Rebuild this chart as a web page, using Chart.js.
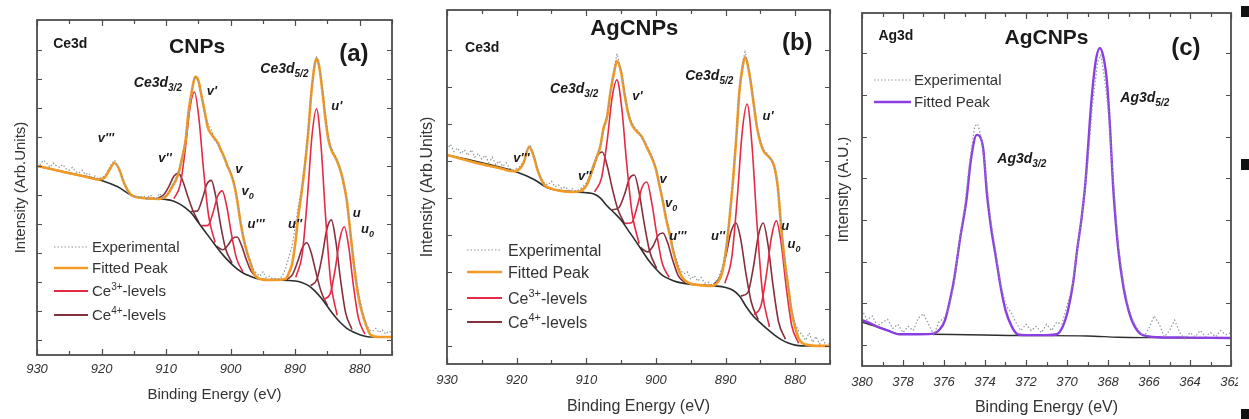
<!DOCTYPE html>
<html lang="en">
<head>
<meta charset="UTF-8">
<title>XPS Ce3d / Ag3d</title>
<script src="https://cdn.jsdelivr.net/npm/chart.js"></script>
<style>
  html, body { margin: 0; padding: 0; background: #fff; }
  #page { position: relative; width: 1249px; height: 419px; overflow: hidden; background: #fff; }
  canvas { position: absolute; top: 0; }
  .mark { position: absolute; left: 1241px; width: 8px; background: #111; }
</style>
</head>
<body>
<div id="page">
  <canvas id="chartA" width="415" height="419" style="left:0px"></canvas>
  <canvas id="chartB" width="422" height="419" style="left:415px"></canvas>
  <canvas id="chartC" width="400" height="419" style="left:838px"></canvas>
  <div class="mark" style="top:6px;height:11px"></div>
  <div class="mark" style="top:159px;height:11px"></div>
  <div class="mark" style="top:409px;height:10px"></div>
</div>

<script>
// ---------- tick labels ----------
const ceTickLabels = [930, 920, 910, 900, 890, 880];
const ceTickMarks = [930, 925, 920, 915, 910, 905, 900, 895, 890, 885, 880, 875];
const agTickLabels = [380, 378, 376, 374, 372, 370, 368, 366, 364, 362];
const agTickMarks = [380, 379, 378, 377, 376, 375, 374, 373, 372, 371, 370, 369, 368, 367, 366, 365, 364, 363, 362];
const yTicksA = [0, 1, 2, 3, 4, 5, 6, 7, 8, 9, 10];
const yTicksB = [0, 1, 2, 3, 4, 5, 6, 7, 8];
const yTicksC = [0, 1, 2, 3, 4, 5, 6, 7];

// ---------- (a) CNPs, Ce3d : [binding energy, intensity] ----------
const expA = [
  [930,6.15],[929.5,6.05],[929,6.2],[928.5,6.1],[928,5.95],[927.5,6.1],[927,6.0],[926.5,5.95],[926,6.05],
  [925.5,5.9],[925,5.85],[924.5,5.95],[924,5.8],[923.5,5.75],[923,5.85],[922.5,5.7],[922,5.75],[921.5,5.6],
  [921,5.65],[920.5,5.55],[920,5.6],[919.5,5.65],[919,5.85],[918.5,6.05],[918,6.2],[917.5,6.0],[917,5.75],
  [916.5,5.4],[916,5.15],[915.5,5.0],[915,4.95],[914,4.92],[913.5,4.98],[913,4.85],[912.5,5.0],[912,4.9],
  [911.5,4.87],[911,5.05],[910.5,4.9],[910,4.98],[909.5,5.12],[909,5.35],[908.5,5.55],[908,5.85],[907.5,6.3],
  [907,6.85],[906.5,7.9],[906,8.6],[905.5,9.1],[905,8.9],[904.5,8.35],[904,7.75],[903.5,7.45],[903,7.25],
  [902.5,6.9],[902,6.75],[901.5,6.5],[901,6.3],[900.5,6.0],[900,5.8],[899.5,5.45],[899,4.85],[898.5,4.1],
  [898,3.5],[897.5,3.0],[897,2.75],[896.5,2.45],[896,2.3],[895.5,2.2],[895,2.35],[894.5,2.15],[894,2.2],
  [893.5,2.1],[893,2.12],[892.5,2.1],[892,2.2],[891.5,2.45],[891,2.85],[890.5,3.2],[890,3.9],[889.5,4.6],
  [889,5.2],[888.5,6.1],[888,7.2],[887.5,8.6],[887,9.55],[886.7,9.75],[886.5,9.65],[886,9.1],[885.5,8.1],
  [885,7.2],[884.5,6.65],[884,6.45],[883.5,6.2],[883,5.9],[882.5,5.4],[882,4.8],[881.5,3.8],[881,2.8],
  [880.5,2.0],[880,1.4],[879.5,0.9],[879,0.55],[878.5,0.35],[878,0.3],[877.5,0.4],[877,0.25],[876.5,0.35],
  [876,0.2],[875.5,0.3],[875,0.25]
];
const fitA = [
  [930,6.0],[928,5.9],[926,5.8],[924,5.7],[922,5.6],[920.5,5.53],[919.5,5.6],[918.8,5.85],[918,6.1],
  [917.3,5.9],[916.5,5.4],[915.5,5.02],[914,4.9],[912,4.87],[911,4.86],[910,4.95],[909.5,5.1],[909,5.3],
  [908.5,5.5],[908,5.8],[907.5,6.3],[907,6.85],[906.5,7.9],[906,8.6],[905.5,9.07],[905,8.95],[904.5,8.4],
  [904,7.85],[903.5,7.3],[903,7.1],[902.5,6.95],[902,6.8],[901.5,6.55],[901,6.3],[900.5,6.0],[900,5.75],
  [899.5,5.4],[899,4.83],[898.5,4.1],[898,3.5],[897.5,3.05],[897,2.7],[896.5,2.35],[896,2.17],[895,2.08],
  [893,2.07],[891.5,2.1],[891,2.3],[890.5,2.6],[890,3.3],[889.5,4.3],[889,5.1],[888.5,6.0],[888,7.1],
  [887.5,8.5],[887,9.45],[886.7,9.7],[886.3,9.45],[885.8,8.6],[885.3,7.6],[884.8,6.85],[884.3,6.5],
  [883.8,6.3],[883.3,6.05],[882.8,5.7],[882.4,5.3],[882,4.8],[881.4,3.6],[880.9,2.6],[880.2,1.5],
  [879.7,1.0],[879,0.5],[878.3,0.17],[877,0.1],[875,0.1]
];
const bgA = [
  [930,6.0],[925,5.75],[920,5.5],[917.5,5.28],[915,4.95],[912,4.87],[910,4.84],[909,4.8],[908,4.7],
  [907,4.55],[906,4.35],[905,4.05],[904,3.75],[903,3.45],[902,3.15],[901,2.88],[900,2.65],[899,2.45],
  [898,2.3],[897,2.2],[896,2.12],[894,2.07],[890,2.03],[889,1.98],[888,1.88],[887,1.7],[886,1.45],
  [885,1.15],[884,0.85],[883,0.6],[882,0.4],[881,0.27],[880,0.18],[879,0.12],[878,0.1],[875,0.1]
];
// Ce3+ components (v', v0, u', u0)
const aVp = [[908.8,4.87],[907.8,5.36],[907.0,6.62],[906.3,8.0],[905.6,8.55],[904.9,7.61],[904.2,5.88],[903.4,4.26],[902.4,3.36]];
const aV0 = [[904.5,3.94],[903.5,3.95],[902.7,4.41],[902.0,4.96],[901.3,5.14],[900.6,4.6],[899.9,3.68],[899.1,2.82],[898.1,2.35]];
const aUp = [[889.9,2.16],[888.9,2.98],[888.1,4.92],[887.4,7.03],[886.7,7.97],[886.0,6.71],[885.3,4.28],[884.5,2.01],[883.5,0.85]];
const aU0 = [[885.6,1.4],[884.6,1.58],[883.8,2.44],[883.1,3.46],[882.4,3.9],[881.7,3.2],[881.0,1.91],[880.2,0.75],[879.2,0.2]];
// Ce4+ components (v'', v, u''', u'', u)
const aVpp = [[911.3,4.88],[910.3,5.02],[909.5,5.32],[908.8,5.64],[908.1,5.75],[907.4,5.47],[906.7,4.99],[905.9,4.49],[904.9,4.04]];
const aV = [[906.2,4.43],[905.2,4.44],[904.4,4.85],[903.7,5.36],[903.0,5.5],[902.3,4.94],[901.6,4.02],[900.8,3.16],[899.8,2.65]];
const aUppp = [[902.2,3.23],[901.2,3.11],[900.4,3.27],[899.7,3.5],[899.0,3.55],[898.3,3.25],[897.6,2.79],[896.8,2.36],[895.8,2.13]];
const aUpp = [[891.4,2.07],[890.4,2.26],[889.6,2.71],[888.9,3.17],[888.2,3.35],[887.5,2.99],[886.8,2.35],[886.0,1.68],[885.0,1.18]];
const aU = [[887.6,1.87],[886.6,2.11],[885.8,2.91],[885.1,3.81],[884.4,4.14],[883.7,3.4],[883.0,2.12],[882.2,0.95],[881.2,0.36]];

// ---------- (b) AgCNPs, Ce3d ----------
const expB = [
  [930,5.3],[929.5,5.45],[929,5.25],[928.5,5.35],[928,5.2],[927.5,5.3],[927,5.15],[926.5,5.3],[926,5.1],
  [925.5,5.2],[925,5.05],[924.5,5.15],[924,4.95],[923.5,5.1],[923,4.9],[922.5,5.0],[922,4.85],[921.5,4.95],
  [921,4.8],[920.5,4.75],[920,4.8],[919.5,4.85],[919,5.0],[918.5,5.3],[918,5.4],[917.5,5.15],[917,4.8],
  [916.5,4.5],[916,4.4],[915.5,4.35],[915,4.45],[914.5,4.3],[914,4.35],[913.5,4.25],[913,4.3],[912.5,4.2],
  [912,4.25],[911.5,4.18],[911,4.22],[910.5,4.3],[910,4.4],[909.5,4.6],[909,4.9],[908.5,5.15],[908,5.4],
  [907.5,5.9],[907,6.25],[906.5,6.9],[906,7.45],[905.6,7.9],[905,7.45],[904.5,6.85],[904,6.35],[903.5,6.05],
  [903,5.9],[902.5,5.8],[902,5.6],[901.5,5.5],[901,5.3],[900.5,5.1],[900,4.8],[899.5,4.35],[899,3.95],
  [898.5,3.45],[898,3.05],[897.5,2.6],[897,2.3],[896.5,2.05],[896,1.95],[895.5,2.0],[895,1.8],[894.5,1.9],
  [894,1.75],[893.5,1.85],[893,1.7],[892.5,1.72],[892,1.65],[891.5,1.7],[891,1.85],[890.5,2.1],[890,2.55],
  [889.5,3.35],[889,4.35],[888.5,5.55],[888,6.95],[887.5,7.7],[887.2,7.95],[887,7.8],[886.5,7.3],[886,6.65],
  [885.5,5.95],[885,5.55],[884.5,5.3],[884,5.2],[883.5,5.05],[883,4.85],[882.5,4.3],[882,3.2],[881.5,2.3],
  [881,1.6],[880.5,0.95],[880,0.6],[879.5,0.4],[879,0.3],[878.5,0.15],[878,0.35],[877.5,0.1],[877,0.25],
  [876.5,0.05],[876,0.2],[875.5,-0.05],[875,0.1]
];
const fitB = [
  [930,5.16],[928,5.06],[926,4.96],[924,4.87],[922,4.78],[920.5,4.72],[919.5,4.8],[919,4.95],[918.2,5.38],
  [917.5,5.1],[917,4.75],[916,4.35],[915,4.25],[914,4.2],[912,4.16],[911,4.18],[910.5,4.22],[910,4.33],
  [909.5,4.55],[909,4.85],[908.5,5.1],[908,5.38],[907.5,5.9],[907,6.2],[906.5,6.9],[906,7.4],[905.6,7.7],
  [905,7.4],[904.5,6.8],[904,6.3],[903.5,6.0],[903,5.85],[902.5,5.75],[902,5.65],[901.5,5.45],[901,5.25],
  [900.5,5.05],[900,4.78],[899.5,4.35],[899,3.9],[898.5,3.4],[898,3.0],[897.5,2.55],[897,2.2],[896.5,1.95],
  [896,1.8],[895,1.68],[894,1.65],[892,1.62],[891,1.75],[890.5,1.97],[890,2.5],[889.5,3.3],[889,4.3],
  [888.5,5.5],[888,6.9],[887.5,7.6],[887.2,7.8],[886.5,7.27],[886,6.6],[885.5,5.92],[885,5.5],[884.5,5.25],
  [884,5.15],[883.5,5.05],[883,4.85],[882.5,4.3],[882,3.2],[881.5,2.3],[881,1.6],[880.5,0.9],[880,0.5],
  [879.5,0.2],[879,0.08],[878,0.02],[877,0],[875,0]
];
const bgB = [
  [930,5.16],[925,4.95],[920,4.7],[917.5,4.5],[915.5,4.27],[912,4.17],[910,4.14],[909,4.11],[908,4.0],
  [907,3.78],[906,3.6],[905,3.4],[904,3.13],[903,2.86],[902,2.58],[901,2.3],[900,2.08],[899,1.9],[898,1.8],
  [897,1.73],[896,1.69],[894,1.65],[891.5,1.62],[890,1.58],[889,1.51],[888,1.35],[887,1.05],[886,0.8],
  [885,0.62],[884,0.45],[883,0.3],[882,0.17],[881,0.08],[880,0.02],[879,0],[875,0]
];
const bVp = [[908.8,4.16],[907.8,4.55],[907.0,5.54],[906.3,6.7],[905.6,7.19],[904.9,6.42],[904.2,4.94],[903.4,3.56],[902.4,2.76]];
const bV0 = [[904.5,3.31],[903.5,3.33],[902.7,3.76],[902.0,4.28],[901.3,4.43],[900.6,3.87],[899.9,3.04],[899.1,2.24],[898.1,1.85]];
const bUp = [[890.1,1.69],[889.1,2.4],[888.3,4.04],[887.6,5.8],[886.9,6.54],[886.2,5.42],[885.5,3.35],[884.7,1.45],[883.7,0.51]];
const bU0 = [[885.9,0.84],[884.9,1.1],[884.1,1.97],[883.4,2.95],[882.7,3.38],[882.0,2.76],[881.3,1.61],[880.5,0.55],[879.5,0.07]];
const bVpp = [[910.9,4.18],[909.9,4.35],[909.1,4.74],[908.4,5.13],[907.7,5.24],[907.0,4.87],[906.3,4.28],[905.5,3.71],[904.5,3.3]];
const bV = [[906.3,3.68],[905.3,3.74],[904.5,4.1],[903.8,4.52],[903.1,4.62],[902.4,4.13],[901.7,3.33],[900.9,2.56],[899.9,2.09]];
const bUppp = [[902.2,2.66],[901.2,2.54],[900.4,2.7],[899.7,2.98],[899.0,3.05],[898.3,2.78],[897.6,2.32],[896.8,1.9],[895.8,1.71]];
const bUpp = [[891.7,1.66],[890.7,1.9],[889.9,2.48],[889.2,3.09],[888.5,3.32],[887.8,2.86],[887.1,1.99],[886.3,1.18],[885.3,0.71]];
const bU = [[887.8,1.35],[886.8,1.44],[886.0,2.13],[885.3,2.97],[884.6,3.32],[883.9,2.73],[883.2,1.66],[882.4,0.66],[881.4,0.18]];

// ---------- (c) AgCNPs, Ag3d ----------
const expC = [
  [380,0.85],[379.75,0.6],[379.5,0.7],[379.25,0.45],[379,0.55],[378.75,0.62],[378.5,0.4],[378.25,0.5],
  [378,0.3],[377.75,0.45],[377.5,0.35],[377.25,0.65],[377,0.75],[376.75,0.5],[376.5,0.25],[376.25,0.55],
  [376,0.65],[375.75,0.9],[375.5,1.5],[375.25,2.5],[375,3.3],[374.75,4.4],[374.5,5.25],[374.35,5.3],
  [374.2,5.0],[374,4.3],[373.75,3.1],[373.5,2.3],[373.25,1.5],[373,1.0],[372.9,0.9],[372.75,0.8],
  [372.5,0.55],[372.25,0.35],[372,0.5],[371.75,0.35],[371.5,0.45],[371.25,0.3],[371,0.5],[370.75,0.35],
  [370.5,0.55],[370.25,0.5],[370,0.95],[369.75,1.4],[369.5,2.3],[369.25,3.2],[369,4.3],[368.75,5.8],
  [368.5,6.8],[368.35,6.95],[368.2,6.5],[368,5.7],[367.75,4.0],[367.5,2.4],[367.25,1.5],[367,0.9],
  [366.75,0.55],[366.5,0.35],[366.25,0.2],[366,0.4],[365.75,0.7],[365.5,0.5],[365.25,0.2],[365,0.35],
  [364.75,0.6],[364.5,0.3],[364.25,0.15],[364,0.3],[363.75,0.2],[363.5,0.35],[363.25,0.2],[363,0.3],
  [362.75,0.2],[362.5,0.35],[362.25,0.25],[362,0.3]
];
const fitC = [
  [380,0.6],[379.5,0.5],[379.2,0.43],[378.7,0.34],[378.2,0.26],[377.5,0.26],[376.6,0.27],[376.2,0.38],
  [375.95,0.6],[375.7,1.1],[375.5,1.6],[375.2,2.6],[374.9,3.5],[374.7,4.4],[374.4,5.04],[374.1,4.75],
  [373.9,3.6],[373.7,2.8],[373.5,2.2],[373.2,1.3],[373.0,0.84],[372.7,0.45],[372.4,0.26],[372,0.24],
  [371,0.24],[370.5,0.26],[370.2,0.45],[369.95,0.84],[369.7,1.5],[369.5,2.3],[369.3,3.0],[369.1,3.9],
  [368.8,5.9],[368.6,6.8],[368.4,7.12],[368.2,6.85],[368.05,6.3],[367.9,5.2],[367.75,3.8],[367.5,2.3],
  [367.25,1.4],[367.0,0.84],[366.7,0.45],[366.3,0.24],[365.5,0.19],[364,0.18],[362,0.17]
];
const bgC = [[380,0.55],[379,0.4],[378.2,0.27],[376.6,0.26],[372,0.23],[369,0.22],[367.5,0.19],[366,0.18],[362,0.17]];

// ---------- style ----------
const SANS = '"Liberation Sans", Arial, sans-serif';
const ORANGE = '#f39a26';
const RED = '#e42a45';
const MAROON = '#84303c';
const BLACK = '#2e2e2e';
const PURPLE = '#8b3fe0';
const GREY = '#8c979c';

const pts = arr => arr.map(([x, y]) => ({ x, y }));

function curve(arr, color, width, extra) {
    return Object.assign({
        data: pts(arr),
        borderColor: color,
        borderWidth: width,
        pointRadius: 0,
        fill: false,
        cubicInterpolationMode: 'monotone'
    }, extra || {});
}

function expCurve(arr) {
    return curve(arr, GREY, 1.2, { borderDash: [1.5, 2], cubicInterpolationMode: 'default', tension: 0 });
}

// rich text: parts = [[text], [text, 'sub'|'sup'], ...]
function drawParts(ctx, parts, x, yMid, size, style, align) {
    const fontFor = k => `${style} ${k ? Math.round(size * 0.68) : size}px ${SANS}`;
    let w = 0;
    parts.forEach(([t, k]) => { ctx.font = fontFor(k); w += ctx.measureText(t).width; });
    let cx = align === 'center' ? x - w / 2 : x;
    const base = yMid + size * 0.36;
    ctx.textAlign = 'left';
    ctx.textBaseline = 'alphabetic';
    parts.forEach(([t, k]) => {
        ctx.font = fontFor(k);
        const dy = k === 'sub' ? size * 0.3 : k === 'sup' ? -size * 0.42 : 0;
        ctx.fillText(t, cx, base + dy);
        cx += ctx.measureText(t).width;
    });
}

const legendStyles = {
    exp: { color: GREY, width: 1.2, dash: [1.5, 2] },
    fit: { color: ORANGE, width: 2.6, dash: [] },
    fitAg: { color: PURPLE, width: 2.4, dash: [] },
    ce3: { color: RED, width: 1.8, dash: [] },
    ce4: { color: MAROON, width: 1.8, dash: [] }
};

// frame, inward ticks, tick labels, axis titles, annotations, legend
function decor(p) {
    return {
        id: 'decor',
        afterDraw(chart) {
            const { ctx, chartArea: a } = chart;
            const x = chart.scales.x, y = chart.scales.y;
            ctx.save();
            ctx.strokeStyle = '#4d4d4d';
            ctx.lineWidth = 1.2;
            ctx.beginPath();
            p.xMarks.forEach(v => {
                const px = Math.round(x.getPixelForValue(v)) + 0.5;
                const len = p.xLabels.includes(v) ? 6 : 4;
                ctx.moveTo(px, a.bottom); ctx.lineTo(px, a.bottom - len);
                ctx.moveTo(px, a.top); ctx.lineTo(px, a.top + len);
            });
            p.yMarks.forEach(v => {
                const py = Math.round(y.getPixelForValue(v)) + 0.5;
                ctx.moveTo(a.left, py); ctx.lineTo(a.left + 5, py);
                ctx.moveTo(a.right, py); ctx.lineTo(a.right - 5, py);
            });
            ctx.stroke();
            ctx.lineWidth = 1.8;
            ctx.strokeRect(a.left, a.top, a.right - a.left, a.bottom - a.top);

            // tick labels
            ctx.fillStyle = '#333';
            ctx.font = `italic 13px ${SANS}`;
            ctx.textAlign = 'center';
            ctx.textBaseline = 'middle';
            p.xLabels.forEach(v => ctx.fillText(String(v), x.getPixelForValue(v), a.bottom + p.labelGap));

            // axis titles
            ctx.font = `${p.titleSize}px ${SANS}`;
            ctx.fillText('Binding Energy (eV)', (a.left + a.right) / 2, a.bottom + p.xTitleGap);
            ctx.save();
            ctx.translate(a.left - p.yTitleGap, (a.top + a.bottom) / 2);
            ctx.rotate(-Math.PI / 2);
            ctx.fillText(p.yTitle, 0, 0);
            ctx.restore();

            // annotations
            ctx.fillStyle = '#1a1a1a';
            p.notes.forEach(n => {
                drawParts(ctx, n.parts, x.getPixelForValue(n.x), y.getPixelForValue(n.y), n.size, n.style, n.align || 'left');
            });

            // legend
            ctx.fillStyle = '#333';
            p.legend.forEach(item => {
                const s = legendStyles[item.kind];
                const ly = a.top + item.dy;
                ctx.strokeStyle = s.color;
                ctx.lineWidth = s.width;
                ctx.setLineDash(s.dash);
                ctx.beginPath();
                ctx.moveTo(a.left + p.legendX[0], ly);
                ctx.lineTo(a.left + p.legendX[1], ly);
                ctx.stroke();
                ctx.setLineDash([]);
                drawParts(ctx, item.parts, a.left + p.legendX[2], ly, p.legendSize, '', 'left');
            });
            ctx.restore();
        }
    };
}

function panel(id, p) {
    new Chart(document.getElementById(id), {
        type: 'line',
        data: { datasets: p.datasets },
        options: {
            responsive: false,
            animation: false,
            events: [],
            layout: { padding: p.pad },
            plugins: { legend: { display: false }, tooltip: { enabled: false } },
            scales: {
                x: { type: 'linear', reverse: true, min: p.xMin, max: p.xMax, display: false },
                y: { type: 'linear', min: p.yMin, max: p.yMax, display: false }
            }
        },
        plugins: [decor(p)]
    });
}

function ceDatasets(exp, fit, bg, ce3, ce4) {
    return [
        expCurve(exp),
        curve(fit, ORANGE, 2.6),
        curve(bg, BLACK, 1.6),
        ...ce3.map(c => curve(c, RED, 1.6)),
        ...ce4.map(c => curve(c, MAROON, 1.6))
    ];
}

const B = 'bold', BI = 'italic bold';
const ceLegend = [
    { kind: 'exp', parts: [['Experimental']] },
    { kind: 'fit', parts: [['Fitted Peak']] },
    { kind: 'ce3', parts: [['Ce'], ['3+', 'sup'], ['-levels']] },
    { kind: 'ce4', parts: [['Ce'], ['4+', 'sup'], ['-levels']] }
];

panel('chartA', {
    pad: { left: 37, right: 23, top: 20, bottom: 64 },
    xMin: 875, xMax: 930, yMin: -0.52, yMax: 11.03,
    xLabels: ceTickLabels, xMarks: ceTickMarks, yMarks: yTicksA,
    labelGap: 14, xTitleGap: 40, yTitleGap: 16, titleSize: 15,
    yTitle: 'Intensity (Arb.Units)',
    datasets: ceDatasets(expA, fitA, bgA, [aVp, aV0, aUp, aU0], [aVpp, aV, aUppp, aUpp, aU]),
    legendX: [17, 51, 55], legendSize: 15,
    legend: ceLegend.map((it, i) => Object.assign({ dy: [227, 248, 271, 295][i] }, it)),
    notes: [
        { x: 927.5, y: 10.24, parts: [['Ce3d']], size: 14, style: B },
        { x: 905.2, y: 10.17, parts: [['CNPs']], size: 21, style: B, align: 'center' },
        { x: 880.9, y: 9.93, parts: [['(a)']], size: 24, style: B, align: 'center' },
        { x: 915.0, y: 8.9, parts: [['Ce3d'], ['3/2', 'sub']], size: 14, style: BI },
        { x: 903.7, y: 8.62, parts: [["v'"]], size: 13, style: BI },
        { x: 895.4, y: 9.38, parts: [['Ce3d'], ['5/2', 'sub']], size: 14, style: BI },
        { x: 884.4, y: 8.1, parts: [["u'"]], size: 13, style: BI },
        { x: 920.6, y: 6.97, parts: [["v'''"]], size: 13, style: BI },
        { x: 911.2, y: 6.31, parts: [["v''"]], size: 13, style: BI },
        { x: 899.3, y: 5.93, parts: [['v']], size: 13, style: BI },
        { x: 898.3, y: 5.17, parts: [['v'], ['0', 'sub']], size: 13, style: BI },
        { x: 897.4, y: 4.03, parts: [["u'''"]], size: 13, style: BI },
        { x: 891.1, y: 4.03, parts: [["u''"]], size: 13, style: BI },
        { x: 881.1, y: 4.41, parts: [['u']], size: 13, style: BI },
        { x: 879.8, y: 3.86, parts: [['u'], ['0', 'sub']], size: 13, style: BI }
    ]
});

panel('chartB', {
    pad: { left: 32, right: 7, top: 10, bottom: 55 },
    xMin: 875, xMax: 930, yMin: -0.49, yMax: 9.08,
    xLabels: ceTickLabels, xMarks: ceTickMarks, yMarks: yTicksB,
    labelGap: 16, xTitleGap: 43, yTitleGap: 19, titleSize: 16,
    yTitle: 'Intensity (Arb.Units)',
    datasets: ceDatasets(expB, fitB, bgB, [bVp, bV0, bUp, bU0], [bVpp, bV, bUppp, bUpp, bU]),
    legendX: [20, 55, 61], legendSize: 16,
    legend: ceLegend.map((it, i) => Object.assign({ dy: [240, 262, 288, 312][i] }, it)),
    notes: [
        { x: 927.4, y: 8.08, parts: [['Ce3d']], size: 14, style: B },
        { x: 903.1, y: 8.62, parts: [['AgCNPs']], size: 22, style: B, align: 'center' },
        { x: 879.7, y: 8.22, parts: [['(b)']], size: 24, style: B, align: 'center' },
        { x: 915.2, y: 6.97, parts: [['Ce3d'], ['3/2', 'sub']], size: 14, style: BI },
        { x: 903.4, y: 6.78, parts: [["v'"]], size: 13, style: BI },
        { x: 895.8, y: 7.32, parts: [['Ce3d'], ['5/2', 'sub']], size: 14, style: BI },
        { x: 884.7, y: 6.24, parts: [["u'"]], size: 13, style: BI },
        { x: 920.5, y: 5.11, parts: [["v'''"]], size: 13, style: BI },
        { x: 911.2, y: 4.62, parts: [["v''"]], size: 13, style: BI },
        { x: 899.5, y: 4.54, parts: [['v']], size: 13, style: BI },
        { x: 898.7, y: 3.89, parts: [['v'], ['0', 'sub']], size: 13, style: BI },
        { x: 898.1, y: 3.0, parts: [["u'''"]], size: 13, style: BI },
        { x: 892.1, y: 3.0, parts: [["u''"]], size: 13, style: BI },
        { x: 882.0, y: 3.27, parts: [['u']], size: 13, style: BI },
        { x: 881.1, y: 2.78, parts: [['u'], ['0', 'sub']], size: 13, style: BI }
    ]
});

panel('chartC', {
    pad: { left: 24, right: 7, top: 13, bottom: 53 },
    xMin: 362, xMax: 380, yMin: -0.5, yMax: 7.96,
    xLabels: agTickLabels, xMarks: agTickMarks, yMarks: yTicksC,
    labelGap: 16, xTitleGap: 42, yTitleGap: 18, titleSize: 16,
    yTitle: 'Intensity (A.U.)',
    datasets: [
        expCurve(expC),
        curve(fitC, PURPLE, 2.4),
        curve(bgC, BLACK, 1.4)
    ],
    legendX: [12, 49, 52], legendSize: 15,
    legend: [
        { kind: 'exp', dy: 67, parts: [['Experimental']] },
        { kind: 'fitAg', dy: 89, parts: [['Fitted Peak']] }
    ],
    notes: [
        { x: 379.2, y: 7.43, parts: [['Ag3d']], size: 14, style: B },
        { x: 371.0, y: 7.39, parts: [['AgCNPs']], size: 21, style: B, align: 'center' },
        { x: 364.2, y: 7.15, parts: [['(c)']], size: 24, style: B, align: 'center' },
        { x: 373.4, y: 4.48, parts: [['Ag3d'], ['3/2', 'sub']], size: 14, style: BI },
        { x: 367.4, y: 5.95, parts: [['Ag3d'], ['5/2', 'sub']], size: 14, style: BI }
    ]
});
</script>
</body>
</html>
